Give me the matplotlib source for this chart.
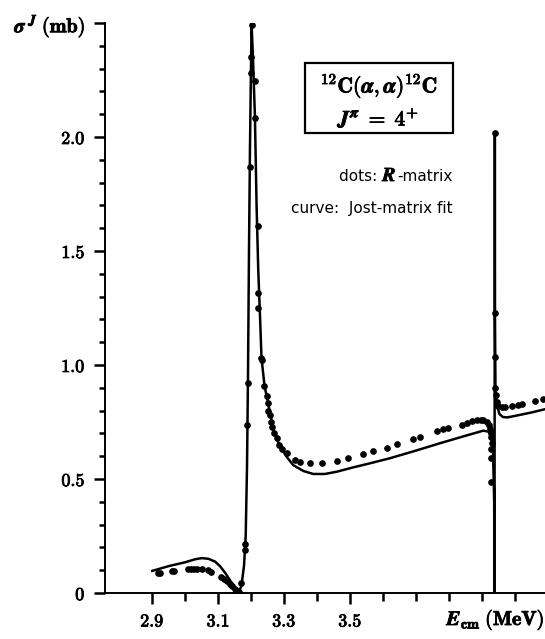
import matplotlib
matplotlib.use("Agg")
import matplotlib.pyplot as plt
import matplotlib.patheffects as pe
from matplotlib.patches import Rectangle
import numpy as np

plt.rcParams['mathtext.fontset'] = 'cm'

# Jost-matrix fit curve
curve_x = [2.900, 2.950, 3.000, 3.030, 3.050, 3.070, 3.090, 3.105, 3.120, 3.135,
           3.150, 3.161, 3.170, 3.178, 3.183, 3.187, 3.190, 3.193, 3.196, 3.199,
           3.201, 3.205, 3.211, 3.216, 3.221, 3.226, 3.231, 3.240, 3.247, 3.257,
           3.267, 3.287, 3.307, 3.327, 3.358, 3.388, 3.423, 3.459, 3.509, 3.560,
           3.620, 3.700, 3.772, 3.850, 3.903, 3.918, 3.926, 3.932, 3.936, 3.937,
           3.9375, 3.938, 3.9385, 3.940, 3.945, 3.952, 3.962, 3.975, 4.000, 4.050,
           4.095]
curve_y = [0.097, 0.118, 0.135, 0.148, 0.153, 0.150, 0.138, 0.118, 0.090, 0.057,
           0.025, 0.000, 0.030, 0.120, 0.250, 0.550, 0.950, 1.500, 1.950, 2.300,
           2.490, 2.350, 2.090, 1.700, 1.420, 1.230, 1.030, 0.910, 0.860, 0.788,
           0.715, 0.642, 0.598, 0.561, 0.535, 0.522, 0.522, 0.532, 0.551, 0.569,
           0.591, 0.625, 0.657, 0.690, 0.712, 0.708, 0.690, 0.650, 0.400, 0.000,
           1.000, 2.020, 1.200, 0.880, 0.820, 0.785, 0.772, 0.770, 0.777, 0.792,
           0.808]

# R-matrix dots
dots_x = [2.918, 2.923, 2.960, 2.966, 3.009, 3.018, 3.026, 3.035, 3.050, 3.068,
          3.078, 3.108, 3.118, 3.126, 3.135, 3.143, 3.150, 3.156, 3.162, 3.170,
          3.180, 3.181, 3.188, 3.190, 3.195, 3.199, 3.199, 3.201, 3.210, 3.210,
          3.219, 3.219, 3.219, 3.230, 3.232, 3.238, 3.249, 3.250, 3.250, 3.258,
          3.260, 3.263, 3.270, 3.277, 3.285, 3.292, 3.307, 3.332, 3.348, 3.378,
          3.413, 3.459, 3.494, 3.539, 3.568, 3.610, 3.641, 3.691, 3.711, 3.762,
          3.782, 3.797, 3.838, 3.853, 3.868, 3.883, 3.895, 3.903, 3.913, 3.920,
          3.924, 3.926, 3.927, 3.928, 3.927, 3.927, 3.927, 3.937, 3.938, 3.938,
          3.937, 3.941, 3.944, 3.949, 3.959, 3.969, 3.989, 4.009, 4.020, 4.060,
          4.085]
dots_y = [0.086, 0.088, 0.097, 0.098, 0.105, 0.106, 0.106, 0.106, 0.105, 0.100,
          0.093, 0.072, 0.062, 0.052, 0.040, 0.030, 0.018, 0.008, 0.003, 0.045,
          0.190, 0.215, 0.735, 0.920, 1.867, 2.280, 2.350, 2.490, 2.247, 2.085,
          1.611, 1.317, 1.250, 1.032, 1.020, 0.909, 0.866, 0.835, 0.798, 0.781,
          0.752, 0.730, 0.703, 0.678, 0.650, 0.632, 0.613, 0.583, 0.576, 0.569,
          0.572, 0.580, 0.592, 0.610, 0.624, 0.638, 0.652, 0.674, 0.686, 0.711,
          0.719, 0.725, 0.737, 0.746, 0.753, 0.758, 0.760, 0.759, 0.752, 0.738,
          0.720, 0.700, 0.686, 0.660, 0.630, 0.590, 0.488, 0.898, 1.036, 1.227,
          2.016, 0.870, 0.839, 0.818, 0.814, 0.815, 0.820, 0.826, 0.829, 0.840,
          0.850]

x_major = [2.9, 3.1, 3.3, 3.5]
x_major_labels = ['2.9', '3.1', '3.3', '3.5']
x_minor = [3.0, 3.2, 3.4, 3.6, 3.7, 3.8, 3.9, 4.0]
y_major = [0.0, 0.5, 1.0, 1.5, 2.0]
y_major_labels = ['0', '0.5', '1.0', '1.5', '2.0']

W, H = 545, 639
fig = plt.figure(figsize=(W / 100, H / 100), dpi=100)
ax = fig.add_axes([105 / W, 46 / H, 440 / W, (593 - 23) / H])

ax.plot(curve_x, curve_y, color='black', lw=1.8, solid_joinstyle='round', zorder=2)
ax.plot(dots_x, dots_y, 'o', color='black', ms=3.8, zorder=3)

ax.set_xlim(2.7567, 4.09)
ax.set_ylim(0, 2.5)

for s in ['top', 'right']:
    ax.spines[s].set_visible(False)
for s in ['left', 'bottom']:
    ax.spines[s].set_linewidth(1.4)

bold = [pe.withStroke(linewidth=0.6, foreground='black')]

ax.set_xticks(x_major)
ax.set_xticklabels([r'$\mathbf{%s}$' % t for t in x_major_labels])
ax.set_xticks(x_minor, minor=True)
ax.set_yticks(y_major + [2.5])
ax.set_yticklabels([r'$\mathbf{%s}$' % t for t in y_major_labels] +
                   [r'$\boldsymbol{\sigma}^{\;\boldsymbol{J}}\;\mathbf{(mb)}$'])
ax.set_yticks(np.arange(0.1, 2.45, 0.1), minor=True)

ax.tick_params(axis='both', which='major', direction='out', width=1.8,
               labelsize=13, color='black')
ax.tick_params(axis='x', which='major', length=8, pad=6)
ax.tick_params(axis='x', which='minor', length=5.5, width=1.8, direction='out')
ax.tick_params(axis='y', which='major', length=8, pad=6)
ax.tick_params(axis='y', which='minor', length=4.5, width=1.8, direction='out')
for lab in ax.get_yticklabels() + ax.get_xticklabels():
    lab.set_path_effects(bold)
    if 'mb' in lab.get_text():
        lab.set_fontsize(14.5)

fig.text(545 / W, 1 - 620 / H, r'$\boldsymbol{E}_{\mathbf{cm}}\;\mathbf{(MeV)}$',
         ha='right', va='center', fontsize=14.5, path_effects=bold)

# Box
rect = Rectangle((305 / W, 1 - 133 / H), 148 / W, 70 / H, transform=fig.transFigure,
                 fill=False, edgecolor='black', lw=1.6)
fig.patches.append(rect)
fig.text(379 / W, 1 - 86 / H,
         r'$\mathbf{{}^{12}C(\boldsymbol{\alpha},\boldsymbol{\alpha})^{12}C}$',
         ha='center', va='center', fontsize=15.5, path_effects=bold)
fig.text(379 / W, 1 - 118 / H,
         r'$\boldsymbol{J}^{\boldsymbol{\pi}}\mathbf{\;=\;4^{+}}$',
         ha='center', va='center', fontsize=15.5, path_effects=bold)

# "dots: R-matrix" built from pieces, right-aligned
fig.canvas.draw()
renderer = fig.canvas.get_renderer()
y_base = 1 - 181 / H
t3 = fig.text(453 / W, y_base, '-matrix', ha='right', va='baseline',
              fontsize=11, family='DejaVu Sans')
bb3 = t3.get_window_extent(renderer)
t2 = fig.text((bb3.x0 - 0.5) / W, y_base, r'$\boldsymbol{R}$', ha='right',
              va='baseline', fontsize=14, path_effects=bold)
bb2 = t2.get_window_extent(renderer)
fig.text((bb2.x0 - 0.5) / W, y_base, 'dots: ', ha='right',
         va='baseline', fontsize=11, family='DejaVu Sans')
fig.text(453 / W, 1 - 208 / H, 'curve:  Jost-matrix fit', ha='right',
         va='center', fontsize=11, family='DejaVu Sans')

fig.savefig('out.png', dpi=100)
